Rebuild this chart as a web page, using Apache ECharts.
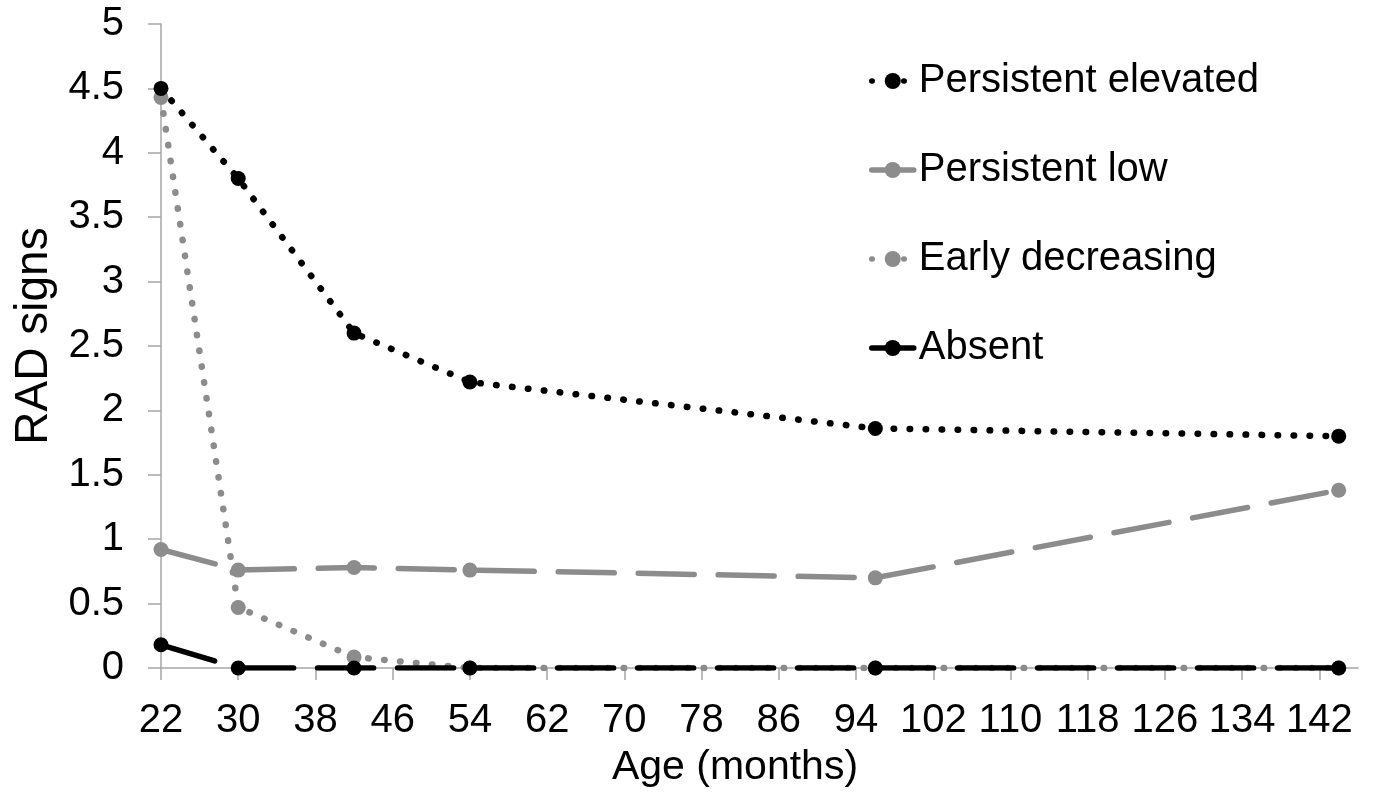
<!DOCTYPE html>
<html>
<head>
<meta charset="utf-8">
<script src="https://cdn.jsdelivr.net/npm/echarts@6/dist/echarts.min.js"></script>
<style>html,body{margin:0;padding:0;background:#fff;}#c{width:1378px;height:795px;}</style>
</head>
<body>
<div id="c"></div>
<script>
const ages = [22, 30, 42, 54, 96, 144];
const persistentElevated = [4.5, 3.8, 2.6, 2.22, 1.86, 1.8];
const persistentLow = [0.92, 0.76, 0.78, 0.76, 0.7, 1.38];
const earlyDecreasing = [4.43, 0.47, 0.085, 0, 0, 0];
const absent = [0.18, 0, 0, 0, 0, 0];
const xTicks = [22, 30, 38, 46, 54, 62, 70, 78, 86, 94, 102, 110, 118, 126, 134, 142];
const yTicks = [0, 0.5, 1, 1.5, 2, 2.5, 3, 3.5, 4, 4.5, 5];

const FONT = '"Liberation Sans", Arial, sans-serif';
const GREY = '#8c8c8c';
const AXIS = '#a6a6a6';
const pts = vals => ages.map((a, i) => [a, vals[i]]);

const chart = echarts.init(document.getElementById('c'));
chart.setOption({
  animation: false,
  backgroundColor: '#fff',
  textStyle: { fontFamily: FONT },
  title: [{
    text: 'Age (months)', left: 730, top: 741, textAlign: 'center',
    textStyle: { fontFamily: FONT, fontSize: 41, fontWeight: 'normal', color: '#000', lineHeight: 44 }
  }],
  grid: { left: 161, right: 20, top: 24, bottom: 127 },
  legend: {
    orient: 'vertical', left: 864, top: 56,
    itemWidth: 42, itemHeight: 20, itemGap: 49,
    lineStyle: { width: 5.5 },
    textStyle: { fontFamily: FONT, fontSize: 40, color: '#000', lineHeight: 40 },
    data: ['Persistent elevated', 'Persistent low', 'Early decreasing', 'Absent']
  },
  xAxis: {
    type: 'value', min: 22, max: 146, interval: 8,
    splitLine: { show: false },
    axisLine: { lineStyle: { color: AXIS, width: 1.5 } },
    axisTick: { show: true, length: 12, lineStyle: { color: AXIS, width: 1.5 }, customValues: xTicks },
    axisLabel: { customValues: xTicks, fontSize: 40, lineHeight: 40, color: '#000', margin: 33, fontFamily: FONT }
  },
  yAxis: {
    type: 'value', min: 0, max: 5, interval: 0.5,
    name: 'RAD signs', nameLocation: 'middle', nameGap: 100,
    nameTextStyle: { fontSize: 46, color: '#000', fontFamily: FONT, padding: [0, 0, 0, 20] },
    splitLine: { show: false },
    axisLine: { show: true, lineStyle: { color: AXIS, width: 1.5 } },
    axisTick: { show: true, length: 13, lineStyle: { color: AXIS, width: 1.5 }, customValues: yTicks },
    axisLabel: { customValues: yTicks, fontSize: 40, color: '#000', margin: 37, fontFamily: FONT }
  },
  series: [
    {
      name: 'Persistent elevated', type: 'line', data: pts(persistentElevated), z: 5,
      symbol: 'circle', symbolSize: 15, itemStyle: { color: '#000' },
      lineStyle: { color: '#000', width: 6.5, type: [0.5, 15.5], cap: 'round' }
    },
    {
      name: 'Persistent low', type: 'line', data: pts(persistentLow), z: 2,
      symbol: 'circle', symbolSize: 15, itemStyle: { color: GREY },
      lineStyle: { color: GREY, width: 5.5, type: [56, 24], cap: 'round' }
    },
    {
      name: 'Early decreasing', type: 'line', data: pts(earlyDecreasing), z: 3,
      symbol: 'circle', symbolSize: 15, itemStyle: { color: GREY },
      lineStyle: { color: GREY, width: 6.5, type: [0.5, 15.5], cap: 'round' }
    },
    {
      name: 'Absent', type: 'line', data: pts(absent), z: 4,
      symbol: 'circle', symbolSize: 15, itemStyle: { color: '#000' },
      lineStyle: { color: '#000', width: 5.5, type: [56, 24], cap: 'round' }
    }
  ]
});
</script>
</body>
</html>
